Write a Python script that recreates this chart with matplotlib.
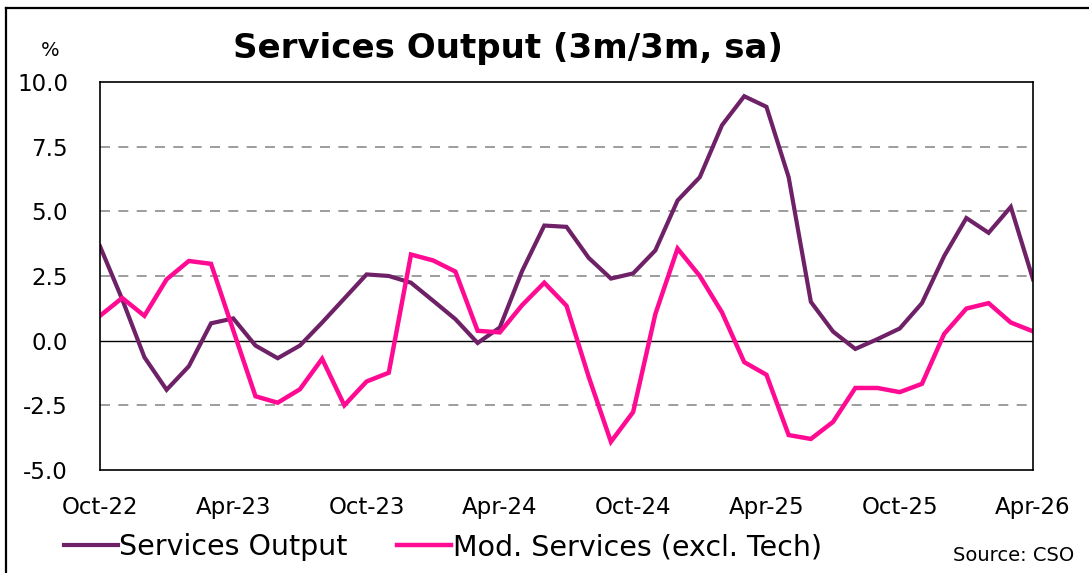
import matplotlib
matplotlib.use('Agg')
import matplotlib.pyplot as plt
from matplotlib.lines import Line2D
import numpy as np

months = ['Oct-22', 'Nov-22', 'Dec-22', 'Jan-23', 'Feb-23', 'Mar-23', 'Apr-23', 'May-23', 'Jun-23',
          'Jul-23', 'Aug-23', 'Sep-23', 'Oct-23', 'Nov-23', 'Dec-23', 'Jan-24', 'Feb-24', 'Mar-24',
          'Apr-24', 'May-24', 'Jun-24', 'Jul-24', 'Aug-24', 'Sep-24', 'Oct-24', 'Nov-24', 'Dec-24',
          'Jan-25', 'Feb-25', 'Mar-25', 'Apr-25', 'May-25', 'Jun-25', 'Jul-25', 'Aug-25', 'Sep-25',
          'Oct-25', 'Nov-25', 'Dec-25', 'Jan-26', 'Feb-26', 'Mar-26', 'Apr-26']

services_output = [3.65, 1.6, -0.64, -1.9, -0.99, 0.67, 0.86, -0.19, -0.68, -0.19, 0.7, 1.63,
                   2.56, 2.5, 2.24, 1.54, 0.83, -0.09, 0.51, 2.69, 4.45, 4.4, 3.2, 2.4, 2.6,
                   3.49, 5.42, 6.32, 8.33, 9.45, 9.04, 6.32, 1.5, 0.35, -0.32, 0.06, 0.47,
                   1.45, 3.27, 4.74, 4.17, 5.17, 2.37]

mod_services = [0.96, 1.65, 0.96, 2.37, 3.08, 2.97, 0.4, -2.15, -2.4, -1.88, -0.7, -2.5,
                -1.58, -1.24, 3.33, 3.1, 2.67, 0.38, 0.32, 1.37, 2.24, 1.35, -1.4, -3.91, -2.76,
                1.03, 3.56, 2.5, 1.09, -0.83, -1.32, -3.65, -3.8, -3.14, -1.83, -1.83, -1.99,
                -1.67, 0.26, 1.24, 1.45, 0.7, 0.36]

yticks = [-5.0, -2.5, 0.0, 2.5, 5.0, 7.5, 10.0]

PURPLE = '#6E2167'
PINK = '#FF0A93'

plt.rcParams['font.family'] = ['DejaVu Sans']

fig = plt.figure(figsize=(10.89, 5.73), dpi=100)
ax = fig.add_axes([0.0918, 0.1798, 0.8568, 0.6771])

x = np.arange(len(months))
ax.plot(x, services_output, color=PURPLE, lw=3.0, solid_joinstyle='miter')
ax.plot(x, mod_services, color=PINK, lw=3.2, solid_joinstyle='miter')

ax.set_xlim(0, len(months) - 1)
ax.set_ylim(-5, 10)
ax.set_yticks(yticks)
ax.set_yticklabels([f'{v:.1f}' for v in yticks], fontsize=16.5)
ax.set_xticks(x[::6])
ax.set_xticklabels(months[::6], fontsize=16.5)
ax.tick_params(axis='x', length=0, pad=19)
ax.tick_params(axis='y', length=0, pad=23)

for v in yticks[1:-1]:
    if v == 0:
        ax.axhline(v, color='black', lw=1.0, zorder=1)
    else:
        ax.axhline(v, color='#8c8c8c', lw=1.2, ls=(0, (6, 5)), zorder=1)

for s in ax.spines.values():
    s.set_color('black')
    s.set_linewidth(1.2)

fig.text(0.046, 0.912, '%', fontsize=14, ha='center', va='center')
fig.text(0.466, 0.915, 'Services Output (3m/3m, sa)', fontsize=24.5, ha='center', va='center',
         fontweight='bold')

handles = [Line2D([], [], color=PURPLE, lw=3.0), Line2D([], [], color=PINK, lw=3.2)]
fig.legend(handles, ['Services Output', 'Mod. Services (excl. Tech)'], loc='center left',
           bbox_to_anchor=(0.048, 0.045), ncol=2, frameon=False, fontsize=20.5,
           handlelength=1.9, handletextpad=0.05, columnspacing=1.75, borderaxespad=0)
fig.text(0.986, 0.03, 'Source: CSO', fontsize=14, ha='right', va='center')

# thin frame on the top and left edges of the image
fig.add_artist(Line2D([0.0055, 0.0055], [0, 0.986], color='black', lw=1.6))
fig.add_artist(Line2D([0.0055, 1], [0.986, 0.986], color='black', lw=1.6))

fig.savefig('out.png', dpi=100)
